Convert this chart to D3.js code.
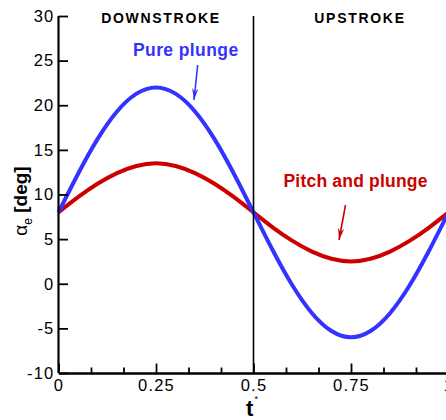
<!DOCTYPE html>
<html>
<head>
<meta charset="utf-8">
<script src="https://cdn.jsdelivr.net/npm/d3@7"></script>
<style>
  html, body { margin: 0; padding: 0; background: #fff; }
  svg { display: block; }
  .tick text { font-family: "Liberation Sans", Arial, sans-serif; font-size: 16.5px; letter-spacing: 1.2px; fill: #000; }
</style>
</head>
<body>
<svg id="chart" width="446" height="420"></svg>
<script>
// Non-dimensional time over one flapping cycle
const tValues = [0, 0.05, 0.10, 0.15, 0.20, 0.25, 0.30, 0.35, 0.40, 0.45, 0.50,
                 0.55, 0.60, 0.65, 0.70, 0.75, 0.80, 0.85, 0.90, 0.95, 1.00];
// Effective angle of attack [deg], pure plunge motion
const purePlunge = [8.0, 12.3, 16.2, 19.3, 21.3, 22.0, 21.3, 19.3, 16.2, 12.3, 8.0,
                    3.7, -0.2, -3.3, -5.3, -6.0, -5.3, -3.3, -0.2, 3.7, 8.0];
// Effective angle of attack [deg], combined pitch and plunge motion
const pitchPlunge = [8.0, 9.7, 11.2, 12.4, 13.2, 13.5, 13.2, 12.4, 11.2, 9.7, 8.0,
                     6.3, 4.8, 3.6, 2.8, 2.5, 2.8, 3.6, 4.8, 6.3, 8.0];

const xMajorTicks = [0, 0.25, 0.5, 0.75, 1];
const xTickLabels = ["0", "0.25", "0.5", "0.75", "1"];
const xMinorTicks = [1/12, 2/12, 4/12, 5/12, 7/12, 8/12, 10/12, 11/12];
const yTicks = [-10, -5, 0, 5, 10, 15, 20, 25, 30];
const yTickLabels = ["-10", "-5", "0", "5", "10", "15", "20", "25", "30"];

const strokePhases = ["DOWNSTROKE", "UPSTROKE"];
const seriesNames = ["Pure plunge", "Pitch and plunge"];

const svg = d3.select("#chart");
const font = '"Liberation Sans", Arial, Helvetica, sans-serif';

const x = d3.scaleLinear().domain([0, 1]).range([58.5, 448.5]);
const y = d3.scaleLinear().domain([-10, 30]).range([373, 16]);

// Curves
const line = d3.line()
  .x((d, i) => x(tValues[i]))
  .y(d => y(d))
  .curve(d3.curveNatural);

svg.append("path")
  .datum(pitchPlunge)
  .attr("d", line)
  .attr("fill", "none")
  .attr("stroke", "#cc0000")
  .attr("stroke-width", 4);

svg.append("path")
  .datum(purePlunge)
  .attr("d", line)
  .attr("fill", "none")
  .attr("stroke", "#3333ff")
  .attr("stroke-width", 4);

// Divider between downstroke and upstroke
svg.append("line")
  .attr("x1", x(0.5)).attr("x2", x(0.5))
  .attr("y1", y(30)).attr("y2", y(-10))
  .attr("stroke", "#000")
  .attr("stroke-width", 1.6);

// Axes
const xAxis = d3.axisBottom(x)
  .tickValues(xMajorTicks)
  .tickFormat((d, i) => xTickLabels[i])
  .tickSizeInner(-9.5)
  .tickSizeOuter(0)
  .tickPadding(6);

const xMinor = d3.axisBottom(x)
  .tickValues(xMinorTicks)
  .tickFormat("")
  .tickSizeInner(-5.5)
  .tickSizeOuter(0);

const yAxis = d3.axisLeft(y)
  .tickValues(yTicks)
  .tickFormat((d, i) => yTickLabels[i])
  .tickSizeInner(-9.5)
  .tickSizeOuter(0)
  .tickPadding(5);

const gxm = svg.append("g").attr("transform", `translate(0,${y(-10)})`).call(xMinor);
const gx = svg.append("g").attr("transform", `translate(0,${y(-10)})`).call(xAxis);
const gy = svg.append("g").attr("transform", `translate(${x(0)},0)`).call(yAxis);

[gx, gy, gxm].forEach(g => {
  g.select(".domain").attr("stroke", "#000").attr("stroke-width", 2.2);
  g.selectAll(".tick line").attr("stroke", "#000").attr("stroke-width", 1.8);
});
gy.select(".domain").attr("d", `M0,${y(30)}V${y(-10)}`);
gy.selectAll(".tick text").attr("dx", "1px");

// Phase titles
svg.append("text")
  .attr("x", x(0.25) + 5).attr("y", 22.5)
  .attr("text-anchor", "middle")
  .attr("font-family", font).attr("font-weight", "bold")
  .attr("font-size", 14).attr("letter-spacing", 1.7)
  .text(strokePhases[0]);

svg.append("text")
  .attr("x", x(0.75) + 9).attr("y", 22.5)
  .attr("text-anchor", "middle")
  .attr("font-family", font).attr("font-weight", "bold")
  .attr("font-size", 14).attr("letter-spacing", 1.7)
  .text(strokePhases[1]);

// Series labels with pointer arrows
function arrow(x1, y1, x2, y2, color) {
  svg.append("line")
    .attr("x1", x1).attr("y1", y1).attr("x2", x2).attr("y2", y2)
    .attr("stroke", color).attr("stroke-width", 1.6);
  const ang = Math.atan2(y2 - y1, x2 - x1);
  const len = 12, half = 3.2;
  const bx = x2 - len * Math.cos(ang), by = y2 - len * Math.sin(ang);
  const px = -Math.sin(ang) * half, py = Math.cos(ang) * half;
  svg.append("path")
    .attr("d", `M${x2},${y2}L${bx + px},${by + py}L${bx + 0.35 * len * Math.cos(ang)},${by + 0.35 * len * Math.sin(ang)}L${bx - px},${by - py}Z`)
    .attr("fill", color);
}

svg.append("text")
  .attr("x", 133).attr("y", 55.5)
  .attr("font-family", font).attr("font-weight", "bold")
  .attr("font-size", 17.5).attr("letter-spacing", 0.4)
  .attr("fill", "#3333ff")
  .text(seriesNames[0]);
arrow(197.7, 65, 194, 100, "#3333ff");

svg.append("text")
  .attr("x", 283.5).attr("y", 187)
  .attr("font-family", font).attr("font-weight", "bold")
  .attr("font-size", 17.5).attr("letter-spacing", 0.2)
  .attr("fill", "#cc0000")
  .text(seriesNames[1]);
arrow(345.5, 205, 339, 240, "#cc0000");

// Axis titles
const yt = svg.append("text")
  .attr("transform", "translate(27,201) rotate(-90)")
  .attr("text-anchor", "middle")
  .attr("font-family", font)
  .attr("font-size", 19);
yt.append("tspan").text("α");
yt.append("tspan").attr("font-size", 12).attr("dy", 5).text("e");
yt.append("tspan").attr("font-weight", "bold").attr("dy", -5).text(" [deg]");

const xt = svg.append("text")
  .attr("x", 252).attr("y", 416)
  .attr("text-anchor", "middle")
  .attr("font-family", font).attr("font-weight", "bold")
  .attr("font-size", 22);
xt.append("tspan").text("t");
xt.append("tspan").attr("font-size", 9).attr("font-weight", "normal").attr("dx", 1).attr("dy", -14).text("*");
</script>
</body>
</html>
